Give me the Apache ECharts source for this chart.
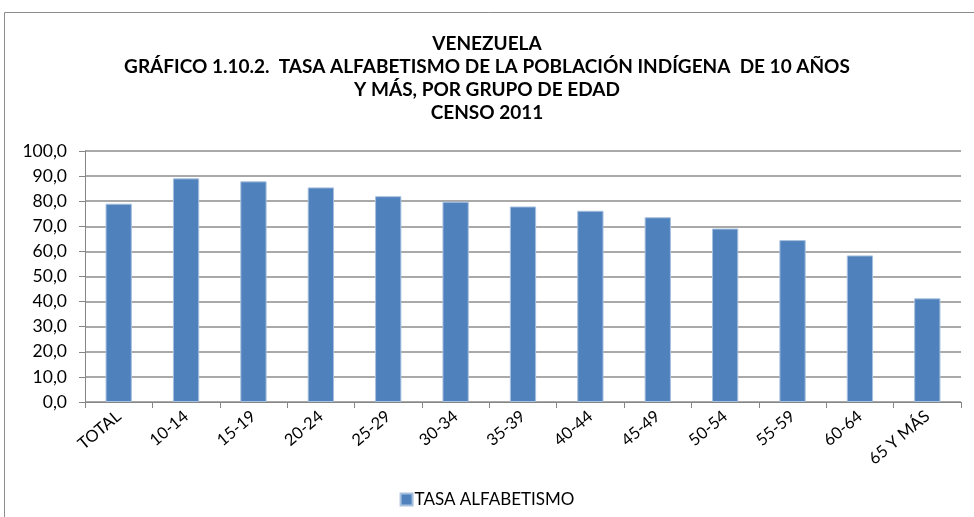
<!DOCTYPE html>
<html><head><meta charset="utf-8">
<script src="https://cdn.jsdelivr.net/npm/echarts@6/dist/echarts.min.js"></script>
<style>html,body{margin:0;padding:0;background:#fff}#c{width:974px;height:517px}</style>
</head><body><div id="c"></div>
<script>
const categories = ["TOTAL","10-14","15-19","20-24","25-29","30-34","35-39","40-44","45-49","50-54","55-59","60-64","65 Y MÁS"];
const tasaAlfabetismo = [79.0, 89.1, 87.9, 85.5, 82.0, 79.8, 77.9, 76.2, 73.6, 69.1, 64.5, 58.4, 41.3];
const seriesName = "TASA ALFABETISMO";
const titleText = "VENEZUELA\nGRÁFICO 1.10.2.  TASA ALFABETISMO DE LA POBLACIÓN INDÍGENA  DE 10 AÑOS\nY MÁS, POR GRUPO DE EDAD\nCENSO 2011";

const chart = echarts.init(document.getElementById('c'));
const font = "Lato, 'Open Sans', sans-serif";
chart.setOption({
  animation: false,
  graphic: [{type:'rect', shape:{x:4.5,y:12.5,width:980,height:520}, style:{fill:'none', stroke:'#8c8c8c', lineWidth:1}}],
  title: {text: titleText, left: 'center', top: 27, textStyle:{fontFamily:font, fontWeight:'bold', fontSize:19, lineHeight:23, color:'#000'}},
  grid: {left: 85, right: 13, top: 151, bottom: 115},
  legend: {bottom: 4, left: 'center', itemWidth: 12, itemHeight: 12, itemGap: 2, icon:'rect', textStyle:{fontFamily:font, fontSize:17, color:'#000', padding:[0,0,0,-3]}, data:[seriesName]},
  xAxis: {type:'category', data: categories,
    axisLine:{lineStyle:{color:'#868686'}},
    axisTick:{show:true, length:6, lineStyle:{color:'#868686'}},
    axisLabel:{rotate:40, fontFamily:font, fontSize:16.5, color:'#000', margin:12, interval:0}},
  yAxis: {type:'value', min:0, max:100, interval:10,
    axisLine:{show:true, lineStyle:{color:'#868686'}},
    axisTick:{show:true, length:6, lineStyle:{color:'#868686'}},
    splitLine:{lineStyle:{color:'#8c8c8c', width:1.5}},
    axisLabel:{fontFamily:font, fontSize:17.5, color:'#000', margin:18, formatter: v => v.toFixed(1).replace('.', ',')}},
  series: [{name: seriesName, type:'bar', data: tasaAlfabetismo, barWidth:'39%',
    itemStyle:{color:'#4F81BD', borderColor:'#A7C0DE', borderWidth:1}}]
});
</script></body></html>
